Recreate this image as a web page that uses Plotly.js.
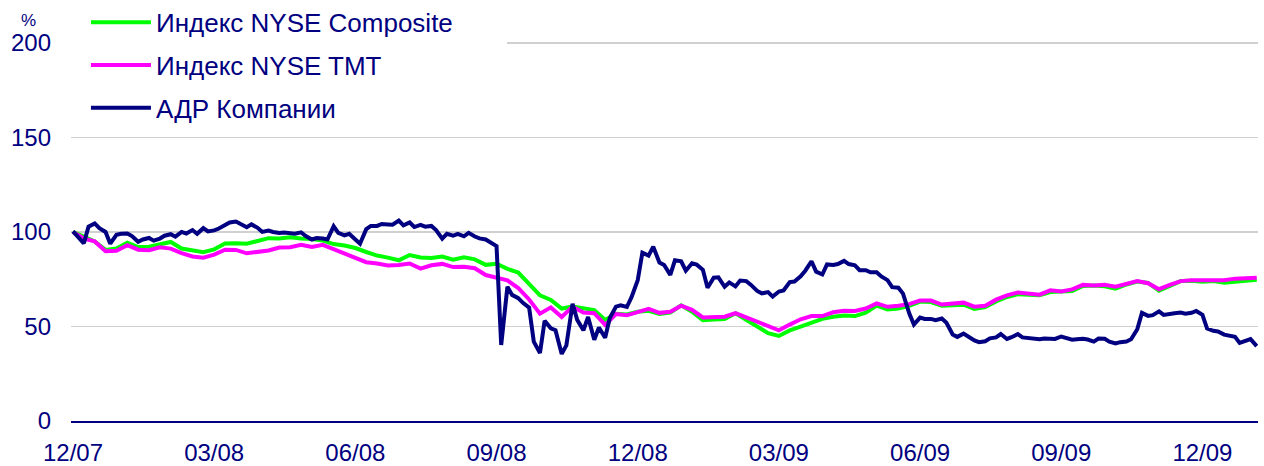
<!DOCTYPE html>
<html>
<head>
<meta charset="utf-8">
<script src="https://cdn.plot.ly/plotly-3.0.1.min.js"></script>
<style>
html,body{margin:0;padding:0;background:#fff;}
#chart{width:1264px;height:466px;}
</style>
</head>
<body>
<div id="chart"></div>
<script>
// Weekly dates (Mondays)
const weeks = [
"2007-12-03","2007-12-10","2007-12-17","2007-12-24","2007-12-31",
"2008-01-07","2008-01-14","2008-01-21","2008-01-28","2008-02-04","2008-02-11","2008-02-18","2008-02-25",
"2008-03-03","2008-03-10","2008-03-17","2008-03-24","2008-03-31","2008-04-07","2008-04-14","2008-04-21","2008-04-28",
"2008-05-05","2008-05-12","2008-05-19","2008-05-26","2008-06-02","2008-06-09","2008-06-16","2008-06-23","2008-06-30",
"2008-07-07","2008-07-14","2008-07-21","2008-07-28","2008-08-04","2008-08-11","2008-08-18","2008-08-25",
"2008-09-01","2008-09-08","2008-09-15","2008-09-22","2008-09-29","2008-10-06","2008-10-13","2008-10-20","2008-10-27",
"2008-11-03","2008-11-10","2008-11-17","2008-11-24","2008-12-01","2008-12-08","2008-12-15","2008-12-22","2008-12-29",
"2009-01-05","2009-01-12","2009-01-19","2009-01-26","2009-02-02","2009-02-09","2009-02-16","2009-02-23",
"2009-03-02","2009-03-09","2009-03-16","2009-03-23","2009-03-30","2009-04-06","2009-04-13","2009-04-20","2009-04-27",
"2009-05-04","2009-05-11","2009-05-18","2009-05-25","2009-06-01","2009-06-08","2009-06-15","2009-06-22","2009-06-29",
"2009-07-06","2009-07-13","2009-07-20","2009-07-27","2009-08-03","2009-08-10","2009-08-17","2009-08-24","2009-08-31",
"2009-09-07","2009-09-14","2009-09-21","2009-09-28","2009-10-05","2009-10-12","2009-10-19","2009-10-26",
"2009-11-02","2009-11-09","2009-11-16","2009-11-23","2009-11-30","2009-12-07","2009-12-14","2009-12-21","2009-12-28",
"2010-01-04"
];
// Mid-week dates (Thursdays) for the more detailed ADR series
const thursdays = [
"2007-12-06","2007-12-13","2007-12-20","2007-12-27",
"2008-01-03","2008-01-10","2008-01-17","2008-01-24","2008-01-31","2008-02-07","2008-02-14","2008-02-21","2008-02-28",
"2008-03-06","2008-03-13","2008-03-20","2008-03-27","2008-04-03","2008-04-10","2008-04-17","2008-04-24",
"2008-05-01","2008-05-08","2008-05-15","2008-05-22","2008-05-29","2008-06-05","2008-06-12","2008-06-19","2008-06-26",
"2008-07-03","2008-07-10","2008-07-17","2008-07-24","2008-07-31","2008-08-07","2008-08-14","2008-08-21","2008-08-28",
"2008-09-04","2008-09-11","2008-09-18","2008-09-25","2008-10-02","2008-10-09","2008-10-16","2008-10-23","2008-10-30",
"2008-11-06","2008-11-13","2008-11-20","2008-11-27","2008-12-04","2008-12-11","2008-12-18","2008-12-25",
"2009-01-01","2009-01-08","2009-01-15","2009-01-22","2009-01-29","2009-02-05","2009-02-12","2009-02-19","2009-02-26",
"2009-03-05","2009-03-12","2009-03-19","2009-03-26","2009-04-02","2009-04-09","2009-04-16","2009-04-23","2009-04-30",
"2009-05-07","2009-05-14","2009-05-21","2009-05-28","2009-06-04","2009-06-11","2009-06-18","2009-06-25",
"2009-07-02","2009-07-09","2009-07-16","2009-07-23","2009-07-30","2009-08-06","2009-08-13","2009-08-20","2009-08-27",
"2009-09-03","2009-09-10","2009-09-17","2009-09-24","2009-10-01","2009-10-08","2009-10-15","2009-10-22","2009-10-29",
"2009-11-05","2009-11-12","2009-11-19","2009-11-26","2009-12-03","2009-12-10","2009-12-17","2009-12-24","2009-12-31"
];

// Индекс NYSE Composite (weekly)
const composite = [
100,97.3,95,90.5,91.2,94.3,92,92.2,93.7,94.7,91.2,90.2,89.3,
90.8,93.9,94,93.8,95.2,96.7,96.5,97.2,96.5,96.3,95.4,93.6,92.8,
91.5,89.4,87.5,86.4,85,87.8,86.5,86.2,87,85.3,86.6,85.5,82.6,
83.2,80.5,78.5,72.8,66.5,64,59.5,60.5,59.5,58.7,53.4,56.7,56.3,
57.8,58.3,56.6,57.3,61.2,57.8,53.3,53.7,54,57,53.7,49.8,46.5,
45,47.9,49.9,52,54,55.1,55.8,55.5,57.3,61,59,59.5,60.9,
63.2,62.9,61,61.1,61.5,59.3,60.2,63.2,65.6,67.1,66.8,66.5,68.2,
68.7,68.8,71.4,71.7,71.3,70,72.2,73.8,73,68.9,71.5,74,74.2,
73.7,74,73.1,73.6,74.3,74.7
];
// Индекс NYSE TMT (weekly)
const tmt = [
100,96.5,95,89.8,90,93,90.6,90.3,91.9,91.2,88.8,87,86.4,
88,90.6,90.5,88.7,89.7,90.2,91.8,91.9,93.2,92.1,93.2,91,88.4,
86.7,84,83.3,82.3,82.5,83.3,80.6,82.4,83.1,81.4,81.6,80.8,77.2,
75.9,74.4,70.3,64.3,56.8,60.1,55,60.5,57.4,57,50.8,56.6,55.9,
57.6,59.3,57.2,57.8,61,58.8,54.8,55.1,55.2,57,54.7,52.4,50.5,
48,51,53.8,55.5,55.5,57.5,58.3,58.2,59.5,62.2,60.4,61,61.8,
63.7,63.7,61.6,62.3,62.6,60.5,61,64.2,66.5,68,67.5,66.8,69.1,
68.5,69.6,72,71.7,72,71,72.6,74,72.9,69.7,72,74,74.5,
74.6,74.7,74.4,75.3,75.7,75.8
];
// АДР Компании (Monday, Thursday, Monday, Thursday, ...)
const adr = [
100.3,97.5, 94,102.8, 104.5,102, 100,93.8, 98.5,99, 99.2,97.8, 94.8,96, 96.8,95.4, 96.5,98, 98.8,97.5,
100,99.2, 101,99, 102,100.3, 100.8,101.8, 103.8,105, 105.5,104.2, 102.5,104, 102.2,100, 100.7,100, 99.4,99.7,
99.6,99.1, 99.8,97.8, 96,96.8, 96.5,96, 103,99.5, 98.2,99, 96,93.8, 101.5,103.2, 103.2,104.2, 104,103.8,
106,103.5, 105,102.6, 103.7,102.8, 103.2,101, 96.5,99, 98,99, 97.7,99.5, 97.6,96.6, 96,94.5, 92.5,40.2,
71,66.7, 65,62.5, 60,42, 36,53, 49,48, 35.5,40, 62,53.5, 48,55, 43,49.5, 44,54.5,
60.5,61.2, 60.3,65.5, 74.5,89, 87.5,92.2, 83.8,82.5, 77.3,85, 84.5,79.5, 83.4,82.7, 80,70.5, 75.8,76,
71,73.3, 71.2,74.3, 74,72, 68.8,67.5, 68.2,65.8, 68.5,69, 73.5,73.8, 76.5,79.5, 84.5,79, 77.5,82.8,
82.5,83, 84.7,83, 82.3,79.8, 79.8,78.7, 78.7,76.5, 74.5,70.8, 70.5,67.4, 57,51, 54.7,54, 54,53.3,
54.2,52, 45.8,44.5, 46.2,44.7, 42.6,41.7, 42.2,43.7, 44.2,46, 43.4,44.3, 46,44.2, 43.7,43.7, 43.2,43.6,
43.2,43.4, 44.7,43.9, 43,43.3, 43.5,43.1, 42,43.6, 43.5,42, 41,41.7, 42,43.2, 48.5,57.2, 55.6,56,
58,56.1, 56.8,57, 57.4,56.8, 57.2,58.2, 56.2,48.9, 47.7,47.4, 45.7,45.3, 44.5,41.3, 42.5,43.3,
39.6
];

const tickDates = ["2007-12-03","2008-03-03","2008-06-02","2008-09-01","2008-12-01","2009-03-02","2009-06-01","2009-08-31","2009-11-30"];
const tickLabels = ["12/07","03/08","06/08","09/08","12/08","03/09","06/09","09/09","12/09"];
const yTicks = [0,50,100,150,200];
const seriesNames = ["Индекс NYSE Composite","Индекс NYSE TMT","АДР Компании"];
const seriesColors = ["#00ff00","#ff00ff","#000080"];

const adrDates = [];
for (let i = 0; i < weeks.length; i++) {
  adrDates.push(weeks[i]);
  if (i < thursdays.length) adrDates.push(thursdays[i]);
}

const NAVY = "#000080";
const FONT = "Liberation Sans, Arial, sans-serif";

const traces = [
  {x: weeks, y: composite, name: seriesNames[0], legendgroup: "a", type: "scatter", mode: "lines",
   line: {color: seriesColors[0], width: 4}},
  {x: weeks, y: tmt, name: seriesNames[1], legendgroup: "b", type: "scatter", mode: "lines",
   line: {color: seriesColors[1], width: 4}},
  {x: adrDates, y: adr, name: seriesNames[2], legendgroup: "c", type: "scatter", mode: "lines",
   line: {color: seriesColors[2], width: 4}}
];

const layout = {
  width: 1264, height: 466,
  margin: {l: 71, r: 6, t: 41, b: 45, pad: 0, autoexpand: false},
  paper_bgcolor: "#ffffff", plot_bgcolor: "#ffffff",
  font: {family: FONT, color: NAVY, size: 24},
  showlegend: true,
  legend: {
    x: 0.0126, y: 1.111, xanchor: "left", yanchor: "top",
    bgcolor: "rgba(255,255,255,0)", borderwidth: 0,
    font: {family: FONT, size: 26, color: NAVY},
    traceorder: "grouped", tracegroupgap: 6,
    itemwidth: 60
  },
  xaxis: {
    type: "date",
    range: ["2007-12-01 17:00", "2010-01-04 19:30"],
    tickvals: tickDates, ticktext: tickLabels,
    showgrid: false, zeroline: false,
    showline: true, linecolor: NAVY, linewidth: 1.5,
    ticks: "", ticklabelstandoff: 10,
    tickfont: {family: FONT, size: 24, color: NAVY},
    fixedrange: true
  },
  yaxis: {
    range: [0, 201], tickvals: yTicks,
    showgrid: true, gridcolor: "#d0d0d0", gridwidth: 1.5,
    zeroline: false, showline: false,
    ticks: "", ticklabelstandoff: 19,
    tickfont: {family: FONT, size: 24, color: NAVY},
    fixedrange: true
  },
  shapes: [
    // white legend box area hiding the top gridline behind the legend
    {type: "rect", layer: "above", xref: "paper", yref: "paper",
     x0: 0, x1: 0.3673, y0: 0.93, y1: 1.0, fillcolor: "#ffffff", line: {width: 0}}
  ],
  annotations: [
    {text: "%", xref: "paper", yref: "paper", x: -0.0354, y: 1.0530, xanchor: "center", yanchor: "middle",
     showarrow: false, font: {family: FONT, size: 17, color: NAVY}}
  ]
};

Plotly.newPlot("chart", traces, layout, {displayModeBar: false, staticPlot: true});
</script>
</body>
</html>
